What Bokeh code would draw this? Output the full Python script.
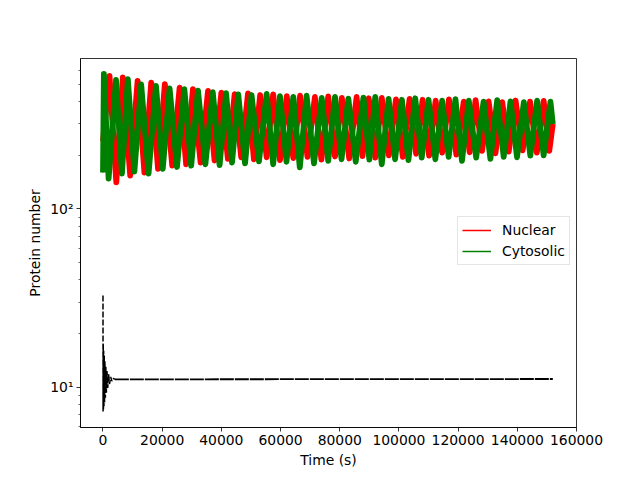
from bokeh.plotting import figure
from bokeh.models import Range1d, FixedTicker, Legend, LegendItem, BasicTickFormatter
from bokeh.embed import file_html
from bokeh.resources import INLINE

# ---------------- data ----------------
# Nuclear (red): start, slow-cycle peaks, troughs, end
RED_START = (0, 240)
RED_PEAK_T = [2200, 6700, 11700, 16300, 20900, 25900, 30400, 35500, 40000, 44500,
              49000, 53100, 57500, 62100, 66600, 71600, 76100, 80700, 85700, 89800,
              94200, 99000, 103600, 108000, 112400, 116900, 121900, 125900, 130300,
              134900, 139400, 144300, 148900]
RED_PEAK_V = [559, 547, 524, 512, 502, 480, 471, 460, 450, 441,
              445, 436, 440, 430, 432, 425, 428, 420, 425, 418,
              420, 412, 415, 410, 405, 412, 400, 408, 402,
              398, 406, 400, 404]
RED_TROUGH_T = [4500, 9200, 14000, 18600, 23400, 28100, 33000, 37700, 42200, 46700,
                51000, 55300, 59800, 64300, 69100, 73800, 78400, 83200, 87700, 92000,
                96600, 101300, 105800, 110200, 114600, 119400, 123900, 128100, 132600,
                137100, 141800, 146600, 150800]
RED_TROUGH_V = [141, 154, 160, 168, 175, 178, 182, 187, 191, 195,
                190, 195, 188, 193, 196, 189, 197, 192, 198, 194,
                200, 196, 204, 199, 207, 202, 208, 212, 205,
                210, 213, 207, 212]
RED_END = (152000, 300)

# Cytosolic (green)
GREEN_START = (0, 160)
GREEN_PEAK_T = [300, 4400, 8400, 12900, 17900, 22500, 27500, 32100, 37100, 41600,
                45700, 50200, 55300, 59800, 64300, 68800, 73900, 78400, 82900, 88000,
                92000, 96500, 101000, 105500, 110000, 114600, 119100, 123600, 128600,
                133200, 137700, 142200, 146700, 151200]
GREEN_PEAK_V = [573, 530, 535, 500, 491, 475, 470, 462, 452, 446,
                440, 436, 442, 430, 426, 432, 420, 426, 416, 422,
                426, 415, 410, 418, 410, 405, 413, 405, 400,
                408, 402, 398, 405, 400]
GREEN_TROUGH_T = [1900, 6400, 10600, 15400, 20200, 25000, 29800, 34600, 39400, 43600,
                  48000, 52700, 57500, 62000, 66500, 71300, 76100, 80600, 85400, 90000,
                  94200, 98700, 103200, 107700, 112300, 116800, 121300, 126100, 130900,
                  135400, 139900, 144400, 148900]
GREEN_TROUGH_V = [148, 158, 162, 158, 168, 172, 175, 178, 176, 182,
                  180, 185, 178, 184, 171, 180, 186, 190, 184, 189,
                  178, 190, 188, 194, 190, 196, 186, 194, 191,
                  196, 195, 199, 200]
GREEN_END = (152000, 300)

# third (black, dashed) series: fast-decaying transient, then steady level
BLACK_T = [0, 30, 80, 150, 230, 320, 420, 530, 650, 800, 950, 1150, 1350, 1600,
           1900, 2200, 2600, 3000, 3500, 4000, 152000]
BLACK_V = [32.7, 7.3, 17.5, 7.5, 16.0, 7.8, 15.0, 8.2, 14.0, 8.7, 13.0, 9.3, 12.3,
           9.9, 11.8, 10.4, 11.4, 10.8, 11.2, 11.05, 11.1]
BLACK_SPLIT = 19  # index where the transient ends

X_TICKS = [0, 20000, 40000, 60000, 80000, 100000, 120000, 140000, 160000]
Y_TICKS = [10, 100]
Y_TICK_LABELS = {10: "10\u00b9", 100: "10\u00b2"}
Y_MINOR = [6, 7, 8, 9, 20, 30, 40, 50, 60, 70, 80, 90, 200, 300, 400, 500, 600]


def merge(start, pt, pv, tt, tv, end):
    pts = [start] + list(zip(pt, pv)) + list(zip(tt, tv)) + [end]
    pts.sort(key=lambda a: a[0])
    return [a[0] for a in pts], [a[1] for a in pts]


red_t, red_v = merge(RED_START, RED_PEAK_T, RED_PEAK_V, RED_TROUGH_T, RED_TROUGH_V, RED_END)
green_t, green_v = merge(GREEN_START, GREEN_PEAK_T, GREEN_PEAK_V, GREEN_TROUGH_T,
                         GREEN_TROUGH_V, GREEN_END)

FONT = "DejaVu Sans"
FS = "13.9px"

p = figure(width=640, height=480, output_backend="svg", toolbar_location=None,
           y_axis_type="log",
           x_range=Range1d(-7600, 160000), y_range=Range1d(5.93, 699),
           min_border_left=80, min_border_right=64, min_border_top=58,
           min_border_bottom=53)

p.background_fill_color = "white"
p.border_fill_color = "white"
p.outline_line_color = "black"
p.outline_line_width = 0.8
p.xgrid.visible = False
p.ygrid.visible = False

LW = 5.8
p.line(red_t, red_v, color="#ff0000", line_width=LW, line_join="round")
lr = p.line(red_t, red_v, color="#ff0000", line_width=1.5)
p.line(green_t, green_v, color="#008000", line_width=LW, line_join="round")
lg = p.line(green_t, green_v, color="#008000", line_width=1.5)
p.line(BLACK_T[:BLACK_SPLIT + 1], BLACK_V[:BLACK_SPLIT + 1], color="black",
       line_width=1.5, line_dash="6 2")
p.line(BLACK_T[BLACK_SPLIT:], BLACK_V[BLACK_SPLIT:], color="black",
       line_width=1.8, line_dash="14 1")

legend = Legend(items=[LegendItem(label="Nuclear", renderers=[lr]),
                       LegendItem(label="Cytosolic", renderers=[lg])],
                location=(377, 162), orientation="vertical")
legend.label_text_font = FONT
legend.label_text_font_size = FS
legend.label_text_color = "black"
legend.padding = 4
legend.spacing = 3
legend.margin = 0
legend.glyph_width = 29
legend.glyph_height = 18
legend.label_height = 18
legend.label_standoff = 11
legend.border_line_color = "#cccccc"
legend.border_line_width = 1
legend.background_fill_alpha = 0.8
p.add_layout(legend, "center")

p.xaxis.ticker = FixedTicker(ticks=X_TICKS)
p.xaxis.formatter = BasicTickFormatter(use_scientific=False)
p.yaxis.ticker = FixedTicker(ticks=Y_TICKS, minor_ticks=Y_MINOR)
p.yaxis.major_label_overrides = Y_TICK_LABELS

for ax in (p.xaxis[0], p.yaxis[0]):
    ax.axis_line_width = 0.8
    ax.major_tick_line_width = 0.8
    ax.minor_tick_line_width = 0.6
    ax.major_tick_out = 4
    ax.major_tick_in = 0
    ax.minor_tick_out = 2
    ax.minor_tick_in = 0
    ax.major_label_text_font = FONT
    ax.major_label_text_font_size = FS
    ax.major_label_text_color = "black"
    ax.axis_label_text_font = FONT
    ax.axis_label_text_font_size = FS
    ax.axis_label_text_font_style = "normal"
    ax.axis_label_text_color = "black"
    ax.major_label_standoff = 3
    ax.axis_label_standoff = 4

p.xaxis.minor_tick_line_color = None
p.xaxis.axis_label = "Time (s)"
p.yaxis.axis_label = "Protein number"

open("out.html", "w").write(file_html(p, INLINE))
